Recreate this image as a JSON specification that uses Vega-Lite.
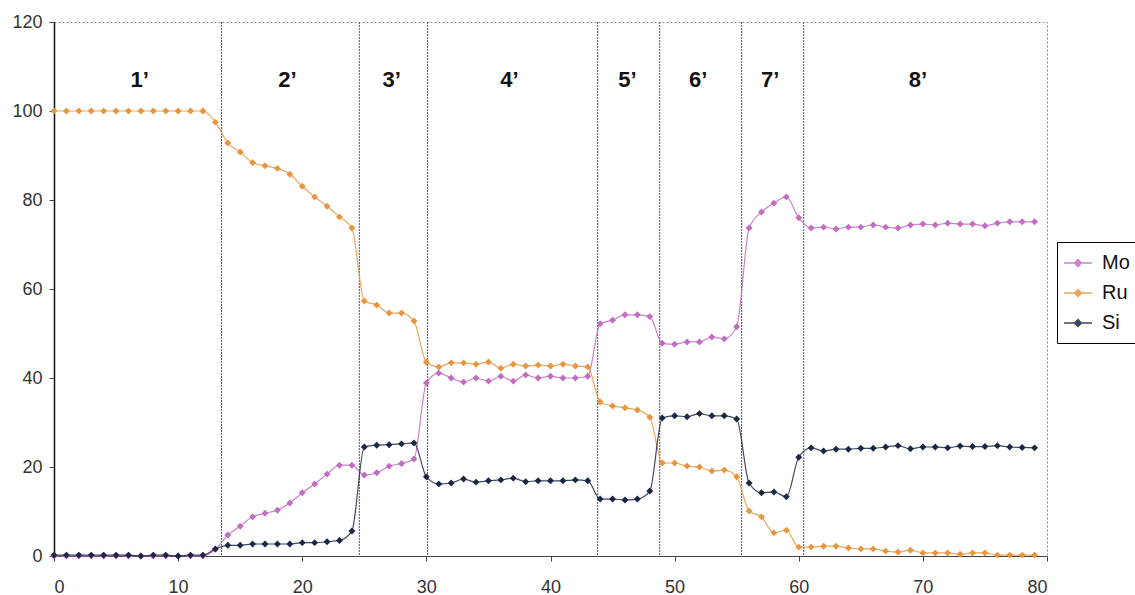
{
  "$schema": "https://vega.github.io/schema/vega-lite/v6.json",
  "width": 993,
  "height": 534,
  "autosize": "none",
  "padding": {"left": 54, "top": 22, "right": 88, "bottom": 39},
  "background": "white",
  "config": {
    "font": "Liberation Sans",
    "view": {"stroke": "#888888", "strokeDash": [2, 2], "strokeWidth": 1}
  },
  "datasets": {
    "series": [
      {"x": 0, "Mo": 0, "Ru": 100, "Si": 0.2},
      {"x": 1, "Mo": 0, "Ru": 100, "Si": 0.2},
      {"x": 2, "Mo": 0, "Ru": 100, "Si": 0.2},
      {"x": 3, "Mo": 0, "Ru": 100, "Si": 0.2},
      {"x": 4, "Mo": 0, "Ru": 100, "Si": 0.2},
      {"x": 5, "Mo": 0, "Ru": 100, "Si": 0.2},
      {"x": 6, "Mo": 0, "Ru": 100, "Si": 0.2},
      {"x": 7, "Mo": 0, "Ru": 100, "Si": 0},
      {"x": 8, "Mo": 0, "Ru": 100, "Si": 0.2},
      {"x": 9, "Mo": 0, "Ru": 100, "Si": 0.2},
      {"x": 10, "Mo": 0, "Ru": 100, "Si": 0},
      {"x": 11, "Mo": 0, "Ru": 100, "Si": 0.2},
      {"x": 12, "Mo": 0, "Ru": 100, "Si": 0.2},
      {"x": 13, "Mo": 1.5, "Ru": 97.5, "Si": 1.6},
      {"x": 14, "Mo": 4.7, "Ru": 92.8, "Si": 2.4},
      {"x": 15, "Mo": 6.7, "Ru": 90.8, "Si": 2.4},
      {"x": 16, "Mo": 8.8, "Ru": 88.4, "Si": 2.7},
      {"x": 17, "Mo": 9.6, "Ru": 87.7, "Si": 2.7},
      {"x": 18, "Mo": 10.3, "Ru": 87.1, "Si": 2.7},
      {"x": 19, "Mo": 11.9, "Ru": 85.8, "Si": 2.7},
      {"x": 20, "Mo": 14.2, "Ru": 83.1, "Si": 3.0},
      {"x": 21, "Mo": 16.2, "Ru": 80.7, "Si": 3.0},
      {"x": 22, "Mo": 18.4, "Ru": 78.6, "Si": 3.2},
      {"x": 23, "Mo": 20.4, "Ru": 76.2, "Si": 3.5},
      {"x": 24, "Mo": 20.4, "Ru": 73.7, "Si": 5.6},
      {"x": 25, "Mo": 18.2, "Ru": 57.3, "Si": 24.5},
      {"x": 26, "Mo": 18.7, "Ru": 56.4, "Si": 24.9},
      {"x": 27, "Mo": 20.2, "Ru": 54.6, "Si": 25.0},
      {"x": 28, "Mo": 20.8, "Ru": 54.6, "Si": 25.2},
      {"x": 29, "Mo": 21.8, "Ru": 52.8, "Si": 25.4},
      {"x": 30, "Mo": 38.9, "Ru": 43.6, "Si": 17.8},
      {"x": 31, "Mo": 41.1, "Ru": 42.5, "Si": 16.2},
      {"x": 32, "Mo": 40.0, "Ru": 43.4, "Si": 16.4},
      {"x": 33, "Mo": 39.1, "Ru": 43.4, "Si": 17.3},
      {"x": 34, "Mo": 40.0, "Ru": 43.1, "Si": 16.6},
      {"x": 35, "Mo": 39.3, "Ru": 43.6, "Si": 16.9},
      {"x": 36, "Mo": 40.4, "Ru": 42.2, "Si": 17.1},
      {"x": 37, "Mo": 39.3, "Ru": 43.1, "Si": 17.5},
      {"x": 38, "Mo": 40.7, "Ru": 42.7, "Si": 16.7},
      {"x": 39, "Mo": 40.0, "Ru": 42.9, "Si": 16.9},
      {"x": 40, "Mo": 40.4, "Ru": 42.7, "Si": 16.9},
      {"x": 41, "Mo": 40.0, "Ru": 43.1, "Si": 16.9},
      {"x": 42, "Mo": 40.0, "Ru": 42.7, "Si": 17.1},
      {"x": 43, "Mo": 40.4, "Ru": 42.5, "Si": 16.9},
      {"x": 44, "Mo": 52.2, "Ru": 34.6, "Si": 12.8},
      {"x": 45, "Mo": 53.0, "Ru": 33.7, "Si": 12.8},
      {"x": 46, "Mo": 54.2, "Ru": 33.3, "Si": 12.6},
      {"x": 47, "Mo": 54.2, "Ru": 32.8, "Si": 12.8},
      {"x": 48, "Mo": 53.8, "Ru": 31.2, "Si": 14.6},
      {"x": 49, "Mo": 47.8, "Ru": 20.9, "Si": 31.0},
      {"x": 50, "Mo": 47.6, "Ru": 20.9, "Si": 31.5},
      {"x": 51, "Mo": 48.1, "Ru": 20.2, "Si": 31.3},
      {"x": 52, "Mo": 48.1, "Ru": 20.0, "Si": 32.0},
      {"x": 53, "Mo": 49.2, "Ru": 19.1, "Si": 31.5},
      {"x": 54, "Mo": 48.8, "Ru": 19.3, "Si": 31.5},
      {"x": 55, "Mo": 51.5, "Ru": 17.8, "Si": 30.8},
      {"x": 56, "Mo": 73.7, "Ru": 10.1, "Si": 16.4},
      {"x": 57, "Mo": 77.3, "Ru": 8.8, "Si": 14.2},
      {"x": 58, "Mo": 79.3, "Ru": 5.2, "Si": 14.4},
      {"x": 59, "Mo": 80.7, "Ru": 5.8, "Si": 13.3},
      {"x": 60, "Mo": 76.0, "Ru": 2.0, "Si": 22.2},
      {"x": 61, "Mo": 73.7, "Ru": 2.0, "Si": 24.3},
      {"x": 62, "Mo": 73.9, "Ru": 2.2, "Si": 23.6},
      {"x": 63, "Mo": 73.5, "Ru": 2.2, "Si": 24.0},
      {"x": 64, "Mo": 73.9, "Ru": 1.8, "Si": 24.0},
      {"x": 65, "Mo": 73.9, "Ru": 1.6, "Si": 24.2},
      {"x": 66, "Mo": 74.4, "Ru": 1.6, "Si": 24.2},
      {"x": 67, "Mo": 73.9, "Ru": 1.1, "Si": 24.5},
      {"x": 68, "Mo": 73.7, "Ru": 0.9, "Si": 24.8},
      {"x": 69, "Mo": 74.4, "Ru": 1.3, "Si": 24.1},
      {"x": 70, "Mo": 74.6, "Ru": 0.7, "Si": 24.5},
      {"x": 71, "Mo": 74.4, "Ru": 0.7, "Si": 24.5},
      {"x": 72, "Mo": 74.8, "Ru": 0.7, "Si": 24.3},
      {"x": 73, "Mo": 74.6, "Ru": 0.4, "Si": 24.7},
      {"x": 74, "Mo": 74.6, "Ru": 0.7, "Si": 24.6},
      {"x": 75, "Mo": 74.2, "Ru": 0.7, "Si": 24.6},
      {"x": 76, "Mo": 74.8, "Ru": 0.2, "Si": 24.8},
      {"x": 77, "Mo": 75.1, "Ru": 0.2, "Si": 24.5},
      {"x": 78, "Mo": 75.1, "Ru": 0.2, "Si": 24.4},
      {"x": 79, "Mo": 75.1, "Ru": 0.2, "Si": 24.3}
    ],
    "dividers": [
      {"x": 13.5}, {"x": 24.6}, {"x": 30.1}, {"x": 43.8}, {"x": 48.8}, {"x": 55.4}, {"x": 60.4}
    ],
    "regions": [
      {"x": 6.9, "label": "1’"},
      {"x": 18.8, "label": "2’"},
      {"x": 27.2, "label": "3’"},
      {"x": 36.7, "label": "4’"},
      {"x": 46.2, "label": "5’"},
      {"x": 51.9, "label": "6’"},
      {"x": 57.7, "label": "7’"},
      {"x": 69.6, "label": "8’"}
    ]
  },
  "layer": [
    {
      "data": {"name": "dividers"},
      "mark": {"type": "rule", "color": "#555555", "strokeDash": [2, 1], "strokeWidth": 1},
      "encoding": {
        "x": {"field": "x", "type": "quantitative", "scale": {"domain": [0, 80], "nice": false, "zero": true}, "title": null}
      }
    },
    {
      "data": {"name": "regions"},
      "mark": {"type": "text", "font": "Liberation Sans", "fontSize": 22, "fontWeight": "bold", "color": "#111111", "align": "center", "baseline": "middle"},
      "encoding": {
        "x": {"field": "x", "type": "quantitative", "title": null},
        "y": {"datum": 107, "type": "quantitative", "title": null},
        "text": {"field": "label"}
      }
    },
    {
      "data": {"name": "series"},
      "transform": [{"fold": ["Mo", "Ru", "Si"], "as": ["s", "v"]}],
      "layer": [
        {
          "mark": {"type": "line", "interpolate": "monotone", "strokeWidth": 1.2, "opacity": 0.85},
          "encoding": {
            "x": {"field": "x", "type": "quantitative", "title": null},
            "y": {"field": "v", "type": "quantitative", "title": null},
            "color": {"field": "s", "type": "nominal"}
          }
        },
        {
          "mark": {"type": "point", "shape": "diamond", "filled": true, "size": 48, "opacity": 1},
          "encoding": {
            "x": {"field": "x", "type": "quantitative", "title": null},
            "y": {"field": "v", "type": "quantitative", "title": null},
            "color": {"field": "s", "type": "nominal"}
          }
        }
      ]
    }
  ],
  "encoding": {
    "x": {
      "type": "quantitative",
      "scale": {"domain": [0, 80], "nice": false},
      "axis": {
        "values": [0, 10, 20, 30, 40, 50, 60, 70, 80],
        "grid": false, "domainColor": "#444444", "tickColor": "#444444",
        "tickSize": 5, "labelPadding": 17, "labelFontSize": 18, "labelColor": "#333333",
        "labelFont": "Liberation Sans", "title": null
      }
    },
    "y": {
      "type": "quantitative",
      "scale": {"domain": [0, 120], "nice": false},
      "axis": {
        "values": [0, 20, 40, 60, 80, 100, 120],
        "grid": false, "domainColor": "#111111", "domainWidth": 1.5, "tickColor": "#444444",
        "tickSize": 5, "labelPadding": 7, "labelFontSize": 18, "labelColor": "#333333",
        "labelFont": "Liberation Sans", "title": null
      }
    },
    "color": {
      "type": "nominal",
      "scale": {"domain": ["Mo", "Ru", "Si"], "range": ["#C16DC1", "#E8963E", "#1D2643"]},
      "legend": {
        "title": null,
        "orient": "none",
        "legendX": 1003,
        "legendY": 220,
        "strokeColor": "#000000",
        "fillColor": "#ffffff",
        "padding": 10,
        "labelFontSize": 20,
        "labelFont": "Liberation Sans",
        "labelColor": "#111111",
        "labelOffset": 13,
        "rowPadding": 9,
        "symbolType": "M-1.4,0L1.4,0M0,-0.35L0.35,0L0,0.35L-0.35,0Z",
        "symbolSize": 400,
        "symbolStrokeWidth": 1.3,
        "encode": {"symbols": {"update": {"fill": {"scale": "color", "field": "value"}, "stroke": {"scale": "color", "field": "value"}}}}
      }
    }
  }
}
